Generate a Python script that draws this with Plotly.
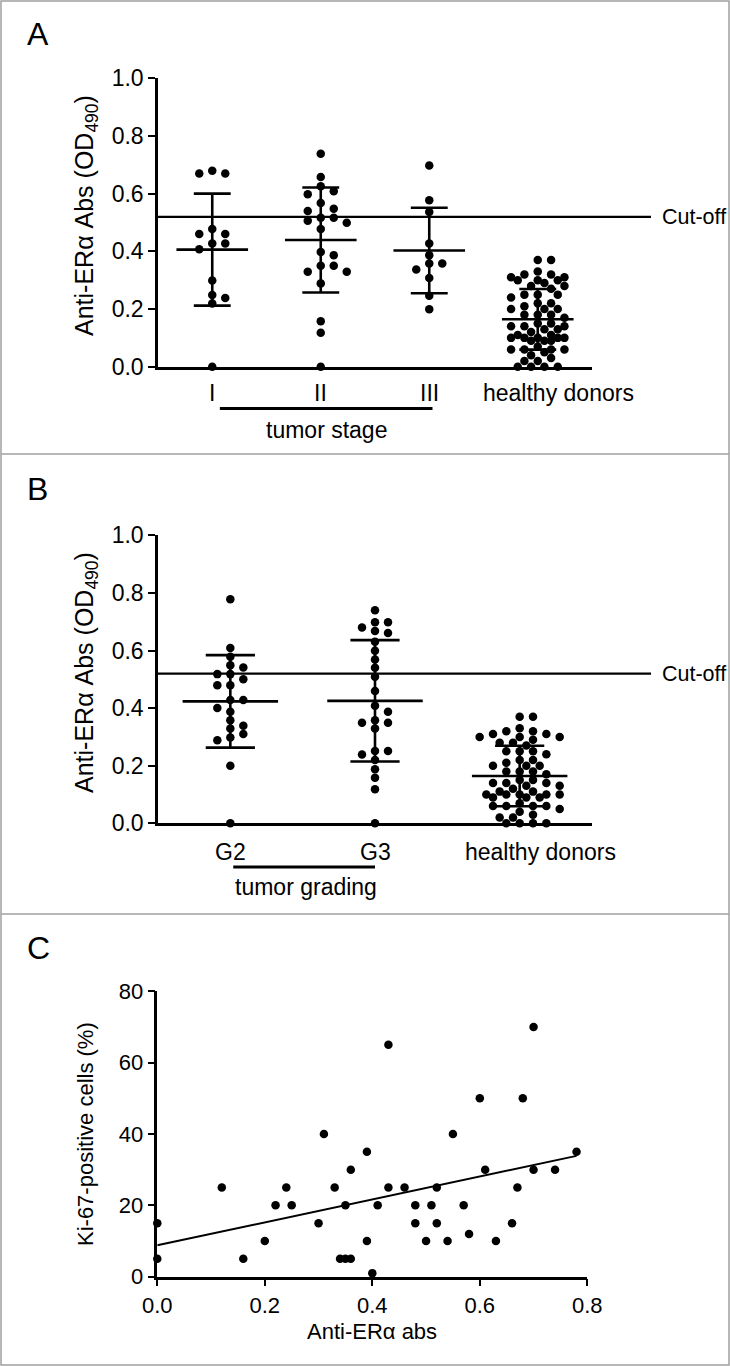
import numpy as np
import plotly.graph_objects as go

W, H = 730, 1366
FONT = "Liberation Sans, Arial, Helvetica, sans-serif"

# ---------------- Panel A: tumor stage ----------------
stage_labels = ["I", "II", "III", "healthy donors"]
stage_I = [0.67, 0.67, 0.68, 0.478, 0.46, 0.46, 0.427, 0.407, 0.427, 0.299,
           0.238, 0.249, 0.219, 0.0]
stage_II = [0.739, 0.658, 0.626, 0.609, 0.598, 0.568, 0.548, 0.540, 0.517, 0.517,
            0.506, 0.499, 0.478, 0.398, 0.387, 0.35, 0.35, 0.329, 0.329, 0.289,
            0.158, 0.118, 0.0]
stage_III = [0.698, 0.577, 0.537, 0.427, 0.387, 0.358, 0.358, 0.337, 0.308,
             0.246, 0.199]
healthy = [0.37, 0.37,
           0.33, 0.32, 0.32,
           0.31, 0.31, 0.30, 0.30, 0.30, 0.29,
           0.28, 0.28, 0.27,
           0.25, 0.25, 0.25, 0.24,
           0.22, 0.22, 0.21,
           0.20, 0.20, 0.20,
           0.18, 0.18, 0.18, 0.17,
           0.15, 0.15, 0.14, 0.14, 0.14, 0.13, 0.13, 0.12,
           0.11, 0.11, 0.10, 0.10, 0.10, 0.10, 0.10, 0.09, 0.09, 0.09,
           0.07, 0.06, 0.06, 0.06, 0.06, 0.05,
           0.04, 0.03, 0.02, 0.02,
           0.00, 0.00, 0.00, 0.00]

# ---------------- Panel B: tumor grading ----------------
grade_labels = ["G2", "G3", "healthy donors"]
grade_G2 = [0.778, 0.609, 0.578, 0.541, 0.549, 0.518, 0.518, 0.50, 0.479, 0.479,
            0.428, 0.428, 0.40, 0.387, 0.358, 0.339, 0.329, 0.31, 0.298, 0.288,
            0.2, 0.0]
grade_G3 = [0.74, 0.698, 0.698, 0.68, 0.661, 0.668, 0.63, 0.599, 0.569, 0.54,
            0.509, 0.459, 0.408, 0.387, 0.349, 0.349, 0.358, 0.329, 0.251, 0.251,
            0.239, 0.22, 0.188, 0.158, 0.118, 0.0]

CUTOFF = 0.52
ab_yticks = [0.0, 0.2, 0.4, 0.6, 0.8, 1.0]

# ---------------- Panel C: correlation ----------------
ki_x = [0, 0, 0.12, 0.16, 0.20, 0.22, 0.24, 0.25, 0.30, 0.31, 0.33, 0.35, 0.34,
        0.35, 0.36, 0.36, 0.39, 0.39, 0.40, 0.41, 0.43, 0.43, 0.46, 0.48, 0.48,
        0.50, 0.51, 0.52, 0.52, 0.54, 0.55, 0.57, 0.58, 0.60, 0.61, 0.63, 0.66,
        0.67, 0.68, 0.70, 0.70, 0.74, 0.78]
ki_y = [15, 5, 25, 5, 10, 20, 25, 20, 15, 40, 25, 20, 5, 5, 5, 30, 35, 10, 1, 20,
        65, 25, 25, 20, 15, 10, 20, 25, 15, 10, 40, 20, 12, 50, 30, 10, 15, 25,
        50, 30, 70, 30, 35]
c_xticks = [0.0, 0.2, 0.4, 0.6, 0.8]
c_yticks = [0, 20, 40, 60, 80]


def fx(px):
    return px / W


def fy(py):
    return 1 - py / H


# pixel geometry of plotting areas
AB_X0, AB_X1 = 158, 592
A_Y0, A_Y1 = 366.7, 78.4     # value 0 / value 1.0
B_Y0, B_Y1 = 823.3, 535.3
C_X0, C_X1 = 157.3, 587.3
C_Y0, C_Y1 = 1276.7, 991.3


def swarm(values, val_px, step, dmin, max_steps):
    vals = np.asarray(values, float)
    order = np.argsort(-vals, kind="stable")
    cand = [0]
    for k in range(1, max_steps + 1):
        cand += [k, -k]
    placed = []
    offs = np.zeros(len(vals))
    for i in order:
        y = vals[i] * val_px
        chosen, fb, fbd = None, 0, -1
        for c in cand:
            x = c * step
            d = min([np.hypot(x - a, y - b) for a, b in placed], default=1e9)
            if d >= dmin:
                chosen = x
                break
            if d > fbd:
                fbd, fb = d, x
        if chosen is None:
            chosen = fb
        placed.append((chosen, y))
        offs[i] = chosen
    return offs


fig = go.Figure()


def add_group(values, idx, cat_px, val_px, xa, ya, step, maxs):
    offs = swarm(values, val_px, step, 8.3, maxs)
    xs = idx + offs / cat_px
    fig.add_trace(go.Scatter(x=xs, y=values, mode="markers", xaxis=xa, yaxis=ya,
                             marker=dict(size=8.5, color="black"),
                             cliponaxis=False, showlegend=False, hoverinfo="y"))
    m = float(np.mean(values))
    s = float(np.std(values, ddof=1))
    bx = [idx - 0.33, idx + 0.33, None, idx, idx, None,
          idx - 0.17, idx + 0.17, None, idx - 0.17, idx + 0.17]
    by = [m, m, None, m - s, m + s, None, m + s, m + s, None, m - s, m - s]
    fig.add_trace(go.Scatter(x=bx, y=by, mode="lines", xaxis=xa, yaxis=ya,
                             line=dict(color="black", width=2.6),
                             cliponaxis=False, showlegend=False, hoverinfo="skip"))


catA = (AB_X1 - AB_X0) / len(stage_labels)
valA = A_Y0 - A_Y1
for i, g in enumerate([stage_I, stage_II, stage_III]):
    add_group(g, i, catA, valA, "x", "y", 13, 3)
add_group(healthy, 3, catA, valA, "x", "y", 6.67, 4)

catB = (AB_X1 - AB_X0) / len(grade_labels)
valB = B_Y0 - B_Y1
for i, g in enumerate([grade_G2, grade_G3]):
    add_group(g, i, catB, valB, "x2", "y2", 13, 3)
add_group(healthy, 2, catB, valB, "x2", "y2", 6.67, 6)

# Panel C scatter and regression line
fig.add_trace(go.Scatter(x=ki_x, y=ki_y, mode="markers", xaxis="x3", yaxis="y3",
                         marker=dict(size=8.5, color="black"), cliponaxis=False,
                         showlegend=False))
slope, icpt = np.polyfit(ki_x, ki_y, 1)
lx = np.array([min(ki_x), max(ki_x)])
fig.add_trace(go.Scatter(x=lx, y=slope * lx + icpt, mode="lines", xaxis="x3", yaxis="y3",
                         line=dict(color="black", width=2), showlegend=False,
                         hoverinfo="skip"))


def axis_common(size):
    return dict(showline=True, linecolor="black", linewidth=2.5, showgrid=False,
                zeroline=False, mirror=False, fixedrange=True, automargin=False,
                tickfont=dict(family=FONT, size=size, color="black"))


fig.update_layout(
    width=W, height=H, margin=dict(l=0, r=0, t=0, b=0, pad=0, autoexpand=False),
    paper_bgcolor="white", plot_bgcolor="white", showlegend=False,
    font=dict(family=FONT, color="black"),
    xaxis=dict(domain=[fx(AB_X0), fx(AB_X1)], range=[-0.5, 3.5], anchor="y",
               showticklabels=False, ticks="", **axis_common(23)),
    yaxis=dict(domain=[fy(A_Y0), fy(A_Y1)], range=[0, 1.0], anchor="x",
               tickvals=ab_yticks, ticktext=[f"{v:.1f}" for v in ab_yticks],
               ticks="outside", ticklen=7, tickwidth=2, tickcolor="black",
               **axis_common(23)),
    xaxis2=dict(domain=[fx(AB_X0), fx(AB_X1)], range=[-0.5, 2.5], anchor="y2",
                showticklabels=False, ticks="", **axis_common(23)),
    yaxis2=dict(domain=[fy(B_Y0), fy(B_Y1)], range=[0, 1.0], anchor="x2",
                tickvals=ab_yticks, ticktext=[f"{v:.1f}" for v in ab_yticks],
                ticks="outside", ticklen=7, tickwidth=2, tickcolor="black",
                **axis_common(23)),
    xaxis3=dict(domain=[fx(C_X0), fx(C_X1)], range=[0, 0.8], anchor="y3",
                tickvals=c_xticks, ticktext=[f"{v:.1f}" for v in c_xticks],
                ticks="outside", ticklen=7, tickwidth=2, tickcolor="black",
                **axis_common(22)),
    yaxis3=dict(domain=[fy(C_Y0), fy(C_Y1)], range=[0, 80], anchor="x3",
                tickvals=c_yticks, ticktext=[str(v) for v in c_yticks],
                ticks="outside", ticklen=7, tickwidth=2, tickcolor="black",
                **axis_common(22)),
)

shapes = []
# panel frames
BORDER = "#a0a0a0"
shapes.append(dict(type="rect", xref="paper", yref="paper", x0=fx(1), x1=fx(729),
                   y0=fy(1), y1=fy(1365), line=dict(color=BORDER, width=1.5)))
for sy in (454, 914):
    shapes.append(dict(type="line", xref="paper", yref="paper", x0=fx(1), x1=fx(729),
                       y0=fy(sy), y1=fy(sy), line=dict(color=BORDER, width=1.5)))
# cut-off lines
for ya in ("y", "y2"):
    shapes.append(dict(type="line", xref="paper", yref=ya, x0=fx(AB_X0), x1=fx(651),
                       y0=CUTOFF, y1=CUTOFF, line=dict(color="black", width=2.3)))
# group underlines
shapes.append(dict(type="line", xref="x", yref="paper", x0=0.07, x1=2.03,
                   y0=fy(408.5), y1=fy(408.5), line=dict(color="black", width=3)))
shapes.append(dict(type="line", xref="x2", yref="paper", x0=0.02, x1=1.0,
                   y0=fy(867), y1=fy(867), line=dict(color="black", width=3)))
fig.update_layout(shapes=shapes)

ann = []


def txt(text, x, y, size=23, xref="paper", yref="paper", xanchor="center",
        yanchor="middle", angle=0):
    ann.append(dict(text=text, x=x, y=y, xref=xref, yref=yref, xanchor=xanchor,
                    yanchor=yanchor, textangle=angle, showarrow=False,
                    font=dict(family=FONT, size=size, color="black")))


# panel letters
txt("A", fx(25), fy(34), size=32, xanchor="left")
txt("B", fx(25), fy(489), size=32, xanchor="left")
txt("C", fx(25), fy(948), size=32, xanchor="left")

# y titles A/B
ytitle = "Anti-ERα Abs (OD<sub>490</sub>)"
txt(ytitle, fx(86), fy(216), size=25, angle=-90)
txt(ytitle, fx(86), fy(673), size=25, angle=-90)

# cut-off labels
txt("Cut-off", fx(660), CUTOFF, size=21.5, yref="y", xanchor="left")
txt("Cut-off", fx(660), CUTOFF, size=21.5, yref="y2", xanchor="left")

# category labels
HD_SHIFT = 21  # px to the right of the healthy-donor column
for i, lab in enumerate(stage_labels):
    xpos = i if i < 3 else i + HD_SHIFT / catA
    txt(lab, xpos, fy(393), xref="x")
txt("tumor stage", 1.05, fy(430), xref="x")
for i, lab in enumerate(grade_labels):
    xpos = i if i < 2 else i + HD_SHIFT / catB
    txt(lab, xpos, fy(852), xref="x2")
txt("tumor grading", 0.52, fy(887), xref="x2")

# panel C titles
txt("Anti-ERα abs", fx((C_X0 + C_X1) / 2), fy(1331), size=22)
txt("Ki-67-positive cells (%)", fx(85), fy(1134), size=22, angle=-90)

fig.update_layout(annotations=ann)

fig.write_html(
    "out.html",
    config={"displayModeBar": False},
    post_script="document.body.style.margin='0px';document.body.style.overflow='hidden';",
)
